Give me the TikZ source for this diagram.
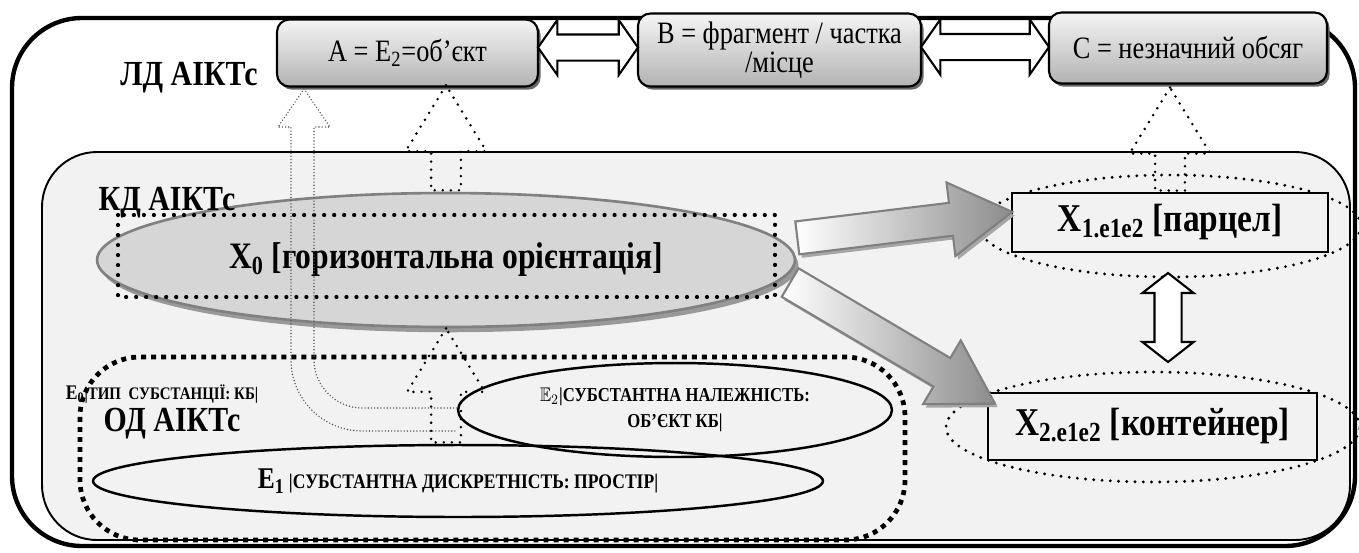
\documentclass[tikz,border=0pt]{standalone}
\usepackage{fontspec}
\usepackage{amssymb}
\usepackage{graphicx}
\setmainfont{Liberation Serif}
\usetikzlibrary{shapes.geometric,shapes.arrows,shadows,calc}
\newcommand{\tall}[1]{\scalebox{1}[1.18]{#1}}
\tikzset{%
    topbox/.style={draw,line width=1.2pt,rounded corners=7pt,top color=black!4,bottom color=black!30,
        drop shadow={shadow xshift=1.5pt,shadow yshift=-1.8pt,fill=black!60,opacity=1},
        minimum height=1.4cm,align=center,inner sep=0pt,font=\fontsize{15}{15}\selectfont},
    hollowdbl/.style={double arrow,draw,fill=white,line width=1.2pt,inner xsep=0pt,inner ysep=0.24cm,
        minimum width=1.06cm,double arrow head extend=0.29cm,double arrow tip angle=110},
    bigarr/.style={single arrow,draw=black!50,line width=1.2pt,inner xsep=0pt,inner ysep=0.31cm,
        left color=white,right color=black!45,minimum width=1.44cm,
        single arrow head extend=0.41cm,single arrow tip angle=62,
        drop shadow={shadow xshift=1.5pt,shadow yshift=-2pt,fill=black!35,opacity=1}},
    dotarr/.style={single arrow,draw,line width=1.6pt,dash pattern=on 0pt off 4.6pt,line cap=round,
        inner xsep=0pt,inner ysep=0.27cm,minimum width=1.56cm,single arrow head extend=0.51cm,
        single arrow tip angle=63,rotate=90},
    ring/.style={ellipse,draw,line width=1.8pt,dash pattern=on 0pt off 4.7pt,line cap=round,inner sep=0pt},
    xbox/.style={rectangle,draw,line width=1.2pt,fill=black!5,inner sep=0pt,
        font=\fontsize{19}{19}\selectfont\bfseries},
    xzero/.style={ellipse,draw=black!50,line width=1.5pt,fill=black!16,inner sep=0pt,
        drop shadow={shadow xshift=2pt,shadow yshift=-3pt,fill=black!40,opacity=1},
        font=\fontsize{18}{18}\selectfont\bfseries},
    eoval/.style={ellipse,draw,line width=1.4pt,inner sep=0pt},
    lvl/.style={inner sep=0pt,font=\fontsize{17}{17}\selectfont\bfseries},
    bigdots/.style={line width=2.4pt,dash pattern=on 0pt off 5.7pt,line cap=round},
    sqdots/.style={line width=2.7pt,dash pattern=on 2.8pt off 2.9pt},
    thindots/.style={draw=black!65,line width=0.9pt,dash pattern=on 0pt off 1.8pt,line cap=round}
}
\begin{document}
\begin{tikzpicture}[x=0.02cm,y=-0.02cm]
    \useasboundingbox (0,0) rectangle (1359,552);
    % outer frame and inner panel
    \draw[line width=2.5pt,rounded corners=1.4cm] (12,18) rectangle (1355,546);
    \draw[fill=black!5,line width=1.1pt,rounded corners=1.1cm] (42,152) rectangle (1350,540);
    % top row
    \node[topbox,minimum width=5.22cm,minimum height=1.34cm] (boxA) at (407.5,53) {\tall{A = E\textsubscript{2}=об’єкт}};
    \node[topbox,minimum width=5.66cm,minimum height=1.46cm] (boxB) at (779.5,50) {\tall{B = фрагмент / частка}\\\tall{/місце}};
    \node[topbox,minimum width=5.56cm,minimum height=1.42cm] (boxC) at (1188,48) {\tall{C = незначний обсяг}};
    \node[hollowdbl,minimum height=2cm] (abarr) at ($(boxA.east)!.5!(boxB.west)+(0,-4)$) {};
    \node[hollowdbl,minimum height=2.56cm] (bcarr) at ($(boxB.east)!.5!(boxC.west)+(0,-2)$) {};
    % X0
    \node[xzero,minimum width=13.96cm,minimum height=2.68cm] (x0) at (446,260) {\tall{X\textsubscript{0} [горизонтальна орієнтація]}};
    \draw[bigdots] (118,215) rectangle (775,297);
    % X1, X2
    \node[ring,minimum width=7.64cm,minimum height=2.04cm] (x1ring) at (1170,226) {};
    \node[xbox,minimum width=6.32cm,minimum height=1.18cm] (x1) at (1170,222.5) {\tall{X\textsubscript{1.e1e2} [парцел]}};
    \node[ring,minimum width=8.28cm,minimum height=2.2cm] (x2ring) at (1153,427) {};
    \node[xbox,minimum width=6.58cm,minimum height=1.34cm] (x2) at (1152.5,426.5) {\tall{X\textsubscript{2.e1e2} [контейнер]}};
    \node[hollowdbl,minimum height=1.78cm,minimum width=0.98cm,inner ysep=0.25cm,double arrow head extend=0.24cm,
        double arrow tip angle=104,rotate=90] (x12arr) at (1168,317.5) {};
    \node[bigarr,minimum height=4.33cm,rotate=6.9,anchor=tail] (tox1) at ($(x0.east)+(0,-22)$) {};
    \node[bigarr,minimum height=4.76cm,rotate=-30.6,anchor=tail] (tox2) at ($(x0.east)+(-7,22)$) {};
    \node[dotarr,minimum height=2.1cm,anchor=tail] (upa) at (x0.north) {};
    \node[dotarr,minimum height=2.06cm,anchor=tail] (upc) at (x1.north) {};
    % OD region
    \draw[sqdots,rounded corners=1.2cm] (80,357) rectangle (905,540);
    \node[eoval,minimum width=14.6cm,minimum height=1.44cm] (e1) at (458,481)
        {\tall{{\fontsize{14.5}{15}\selectfont\bfseries E\textsubscript{1}} {\fontsize{10}{12}\selectfont\bfseries |СУБСТАНТНА ДИСКРЕТНІСТЬ: ПРОСТІР|}}};
    \node[eoval,minimum width=8.68cm,minimum height=1.88cm,align=center,font=\fontsize{9.5}{15}\selectfont\bfseries] (e2) at (675,410)
        {\tall{$\mathbb{E}_2$|СУБСТАНТНА НАЛЕЖНІСТЬ:}\\\tall{ОБ’ЄКТ КБ|}};
    \node[dotarr,minimum height=2.28cm,minimum width=1.5cm,single arrow head extend=0.48cm,anchor=tail] (upx0) at ($(e1.north)+(-12,0)$) {};
    \draw[thindots] ($(e2.west)+(0,-2)$) -- (362,408) .. controls (336,408) and (314,386) .. (314,360)
        -- (314,127) -- (330,127) -- (304,89) -- (278,127) -- (291,127) -- (291,360)
        .. controls (291,399) and (323,431) .. (362,431) -- ($(e2.west)+(0,21)$);
    % level labels
    \node[lvl] (ld) at (189,78) {\tall{ЛД АІКТс}};
    \node[lvl] (kd) at (167,203) {\tall{КД АІКТс}};
    \node[lvl] (od) at (172,424) {\tall{ОД АІКТс}};
    \node[inner sep=0pt] (e0) at (162,394)
        {\tall{{\fontsize{10}{11}\selectfont\bfseries E\textsubscript{0}}{\fontsize{8.5}{10}\selectfont\bfseries |ТИП\ \ СУБСТАНЦІЇ: КБ|}}};
\end{tikzpicture}
\end{document}
